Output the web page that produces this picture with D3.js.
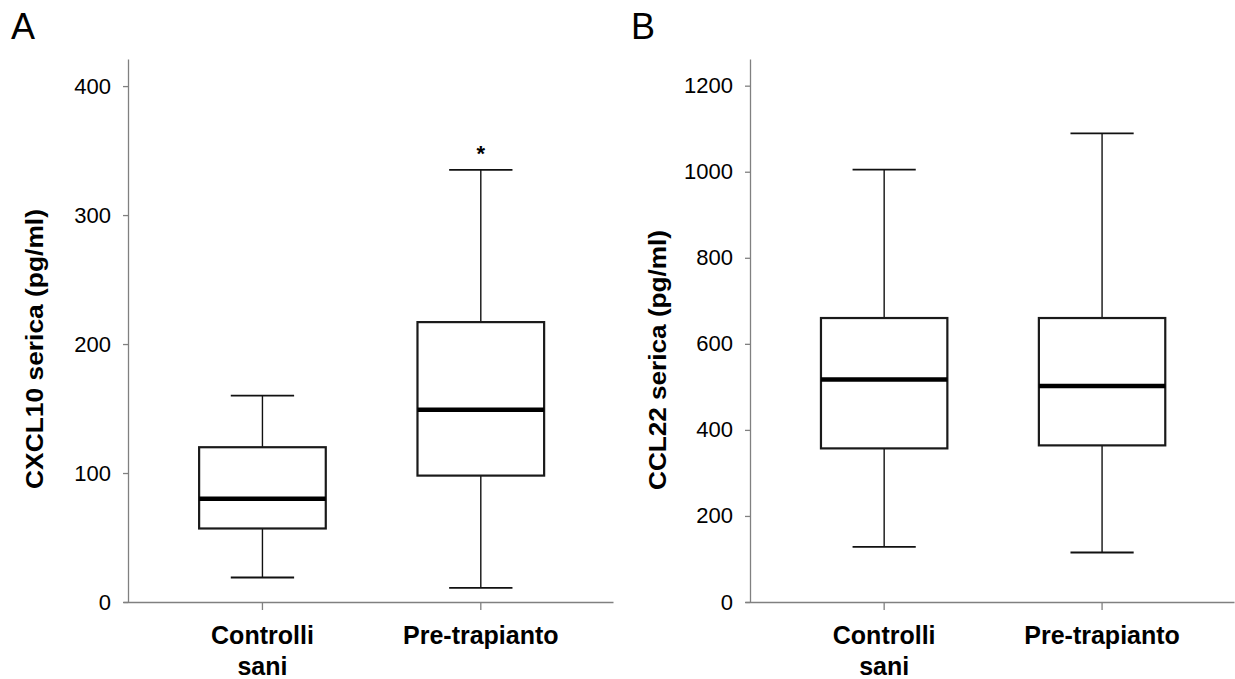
<!DOCTYPE html>
<html>
<head>
<meta charset="utf-8">
<script src="https://cdn.jsdelivr.net/npm/d3@7"></script>
<style>
  body { margin: 0; background: #fff; }
  svg { display: block; font-family: "Liberation Sans", Arial, sans-serif; }
</style>
</head>
<body>
<svg id="chart" width="1235" height="679"></svg>
<script>
// groups on the x axis (second line of a label after the "|")
const groups = ['Controlli|sani', 'Pre-trapianto'];

// panel A: CXCL10 (pg/ml) - whisker low, Q1, median, Q3, whisker high
const cxcl10Low = [19, 11];
const cxcl10Q1 = [57, 98];
const cxcl10Median = [80, 149];
const cxcl10Q3 = [120, 217];
const cxcl10High = [160, 335];
const cxcl10Ticks = [0, 100, 200, 300, 400];
const cxcl10Signif = ['', '*'];

// panel B: CCL22 (pg/ml)
const ccl22Low = [128, 115];
const ccl22Q1 = [357, 364];
const ccl22Median = [517, 502];
const ccl22Q3 = [660, 660];
const ccl22High = [1005, 1089];
const ccl22Ticks = [0, 200, 400, 600, 800, 1000, 1200];

const svg = d3.select('#chart');

function drawPanel(opt) {
  const g = svg.append('g');

  const x = d3.scaleBand()
    .domain(groups)
    .range([opt.left - 5, opt.right])
    .paddingInner(0.42)
    .paddingOuter(0.332)
    .align(0.525);

  const y = d3.scaleLinear()
    .domain([0, opt.yMax])
    .range([602, 59]);

  // y axis
  const yAxis = g.append('g')
    .attr('transform', `translate(${opt.left},0)`)
    .call(d3.axisLeft(y).tickValues(opt.ticks).tickFormat(d3.format('d'))
      .tickSize(5).tickPadding(12).tickSizeOuter(0));
  yAxis.select('.domain').attr('stroke', '#808080').attr('stroke-width', 1.3);
  yAxis.selectAll('.tick line').attr('stroke', '#808080').attr('stroke-width', 1.3);
  yAxis.selectAll('.tick text')
    .attr('font-size', 22)
    .attr('fill', '#000')
    .attr('font-family', '"Liberation Sans", Arial, sans-serif');

  // x axis
  const xAxis = g.append('g')
    .attr('transform', `translate(0,${y(0)})`)
    .call(d3.axisBottom(x).tickSize(8).tickSizeOuter(0).tickFormat(''));
  xAxis.select('.domain').attr('stroke', '#808080').attr('stroke-width', 1.3);
  xAxis.selectAll('.tick line').attr('stroke', '#808080').attr('stroke-width', 1.3);

  // category labels, two lines
  xAxis.selectAll('.tick').each(function (d) {
    const lines = d.split('|');
    const t = d3.select(this).append('text')
      .attr('text-anchor', 'middle')
      .attr('fill', '#000')
      .attr('font-size', 25)
      .attr('font-weight', 'bold')
      .attr('font-family', '"Liberation Sans", Arial, sans-serif');
    lines.forEach((s, i) => {
      t.append('tspan').attr('x', 0).attr('y', 42 + i * 31).text(s);
    });
  });

  // boxes
  const bw = x.bandwidth();
  const data = groups.map((k, i) => ({
    key: k, low: opt.low[i], q1: opt.q1[i], med: opt.med[i], q3: opt.q3[i], high: opt.high[i]
  }));

  const box = g.selectAll('.box').data(data).enter().append('g').attr('class', 'box')
    .attr('transform', d => `translate(${x(d.key) + bw / 2},0)`);

  box.append('line')
    .attr('x1', 0).attr('x2', 0)
    .attr('y1', d => y(d.high)).attr('y2', d => y(d.q3))
    .attr('stroke', '#111').attr('stroke-width', 1.4);
  box.append('line')
    .attr('x1', 0).attr('x2', 0)
    .attr('y1', d => y(d.q1)).attr('y2', d => y(d.low))
    .attr('stroke', '#111').attr('stroke-width', 1.4);
  box.append('line')
    .attr('x1', -bw / 4).attr('x2', bw / 4)
    .attr('y1', d => y(d.high)).attr('y2', d => y(d.high))
    .attr('stroke', '#111').attr('stroke-width', 1.8);
  box.append('line')
    .attr('x1', -bw / 4).attr('x2', bw / 4)
    .attr('y1', d => y(d.low)).attr('y2', d => y(d.low))
    .attr('stroke', '#111').attr('stroke-width', 1.8);
  box.append('rect')
    .attr('x', -bw / 2).attr('width', bw)
    .attr('y', d => y(d.q3)).attr('height', d => y(d.q1) - y(d.q3))
    .attr('fill', '#fff').attr('stroke', '#1a1a1a').attr('stroke-width', 2.2);
  box.append('line')
    .attr('x1', -bw / 2).attr('x2', bw / 2)
    .attr('y1', d => y(d.med)).attr('y2', d => y(d.med))
    .attr('stroke', '#000').attr('stroke-width', 4.5);

  if (opt.signif) {
    box.append('text')
      .attr('text-anchor', 'middle')
      .attr('y', d => y(d.high) - 9)
      .attr('font-size', 22)
      .attr('font-weight', 'bold')
      .text((d, i) => opt.signif[i]);
  }

  // y title
  g.append('text')
    .attr('transform', `translate(${opt.titleX},${opt.titleY}) rotate(-90)`)
    .attr('text-anchor', 'middle')
    .attr('font-size', 23)
    .attr('font-weight', 'bold')
    .attr('textLength', opt.titleLen)
    .attr('lengthAdjust', 'spacingAndGlyphs')
    .text(opt.title);

  // panel letter
  g.append('text')
    .attr('x', opt.letterX).attr('y', 39)
    .attr('font-size', 36)
    .text(opt.letter);
}

drawPanel({
  left: 128, right: 613, yMax: 421, ticks: cxcl10Ticks,
  low: cxcl10Low, q1: cxcl10Q1, med: cxcl10Median, q3: cxcl10Q3, high: cxcl10High,
  signif: cxcl10Signif,
  title: 'CXCL10 serica (pg/ml)', titleX: 43, titleY: 349, titleLen: 280,
  letter: 'A', letterX: 11
});

drawPanel({
  left: 750, right: 1234, yMax: 1262, ticks: ccl22Ticks,
  low: ccl22Low, q1: ccl22Q1, med: ccl22Median, q3: ccl22Q3, high: ccl22High,
  title: 'CCL22 serica (pg/ml)', titleX: 666, titleY: 360, titleLen: 260,
  letter: 'B', letterX: 631
});
</script>
</body>
</html>
